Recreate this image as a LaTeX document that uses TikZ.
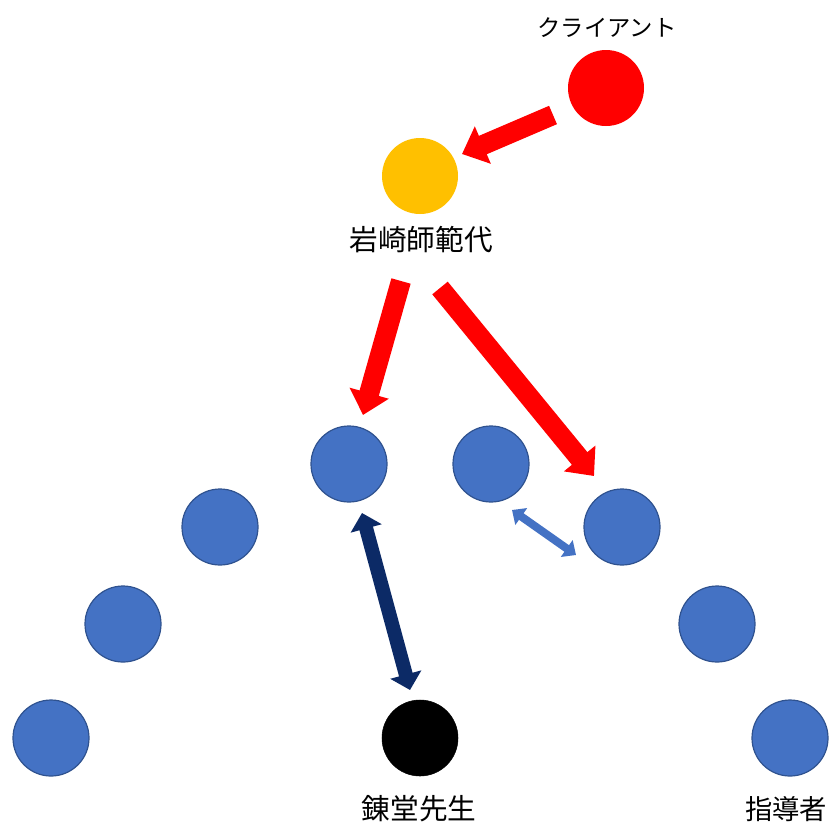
\documentclass[tikz,border=0pt]{standalone}
\usepackage{fontspec}
\newfontfamily\jp{Noto Sans CJK JP}
\usetikzlibrary{arrows.meta}
\definecolor{cred}{HTML}{FF0000}
\definecolor{corange}{HTML}{FFC000}
\definecolor{cblue}{HTML}{4472C4}
\definecolor{cblueedge}{HTML}{2F528F}
\definecolor{cnavy}{HTML}{0C2A66}
\tikzset{
  dot/.style={circle, minimum size=57pt, inner sep=0pt},
  bluedot/.style={dot, fill=cblue, draw=cblueedge, line width=0.9pt},
  lbl/.style={font=\jp, inner sep=0pt, text=black},
  redarrow/.style={cred, line width=15pt,
    -{Triangle[length=17pt, width=29.5pt]}},
  navyarrow/.style={cnavy, line width=10.5pt,
    {Triangle[length=12pt, width=23.5pt]}-{Triangle[length=12pt, width=23.5pt]}},
  smallarrow/.style={cblue, line width=6pt,
    {Triangle[length=8.5pt, width=15pt]}-{Triangle[length=8.5pt, width=15pt]}}
}
\begin{document}
\begin{tikzpicture}[x=0.75pt, y=-0.75pt]
\useasboundingbox (0,0) rectangle (838,825);
% circles
\node[dot, fill=cred] (client) at (606,88) {};
\node[dot, fill=corange] (iwasaki) at (420,176) {};
\node[bluedot] (b1) at (349,464) {};
\node[bluedot] (b2) at (491,464) {};
\node[bluedot] (b3) at (220,527) {};
\node[bluedot] (b4) at (622,527) {};
\node[bluedot] (b5) at (123,624) {};
\node[bluedot] (b6) at (717,624) {};
\node[bluedot] (b7) at (51,738) {};
\node[dot, fill=black, draw=black] (rendo) at (420,738) {};
\node[bluedot] (b8) at (790,738) {};
% labels
\node[lbl, font=\jp\fontsize{17.5pt}{20pt}\selectfont] (tclient) at (607,28) {クライアント};
\node[lbl, font=\jp\fontsize{21.5pt}{24pt}\selectfont] (tiwasaki) at (421,240) {岩崎師範代};
\node[lbl, font=\jp\fontsize{21.5pt}{24pt}\selectfont] (trendo) at (419,809) {錬堂先生};
\node[lbl, font=\jp\fontsize{20.5pt}{24pt}\selectfont] (tshido) at (786,809) {指導者};
% arrow end points
\coordinate (a1s) at (553,115);
\coordinate (a1e) at (462,154);
\coordinate (a2s) at (401,281);
\coordinate (a2e) at (363,415);
\coordinate (a3s) at (440,288);
\coordinate (a3e) at (594,476);
\coordinate (a4s) at (362,513);
\coordinate (a4e) at (410,690);
\coordinate (a5s) at (512,510);
\coordinate (a5e) at (576,555);
% arrows
\draw[redarrow] (a1s) -- (a1e);
\draw[redarrow] (a2s) -- (a2e);
\draw[redarrow] (a3s) -- (a3e);
\draw[navyarrow] (a4s) -- (a4e);
\draw[smallarrow] (a5s) -- (a5e);
\end{tikzpicture}
\end{document}
